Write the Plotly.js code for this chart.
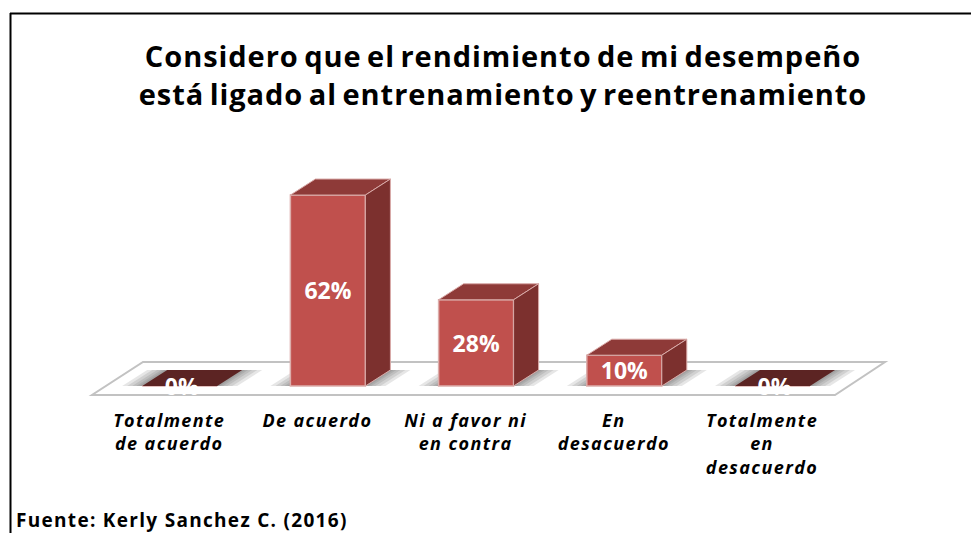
<!DOCTYPE html>
<html><head><meta charset="utf-8">
<script src="https://cdn.plot.ly/plotly-3.0.1.min.js"></script>
<style>
html,body{margin:0;padding:0;background:#fff;overflow:hidden}
.xtick text{letter-spacing:1.4px}
.gtitle{letter-spacing:.95px;word-spacing:-3px}
.annotation-text{letter-spacing:1.3px}
</style></head><body><div id="chart" style="width:971px;height:533px"></div>
<script>
const categories = ["Totalmente<br>de acuerdo","De acuerdo","Ni a favor ni<br>en contra","En<br>desacuerdo","Totalmente<br>en<br>desacuerdo"];
const values = [0,62,28,10,0];
const valueLabels = ["0%","62%","28%","10%","0%"];
const titleText = "Considero que el rendimiento de mi desempeño<br>está ligado al entrenamiento y reentrenamiento";
const sourceText = "Fuente: Kerly Sanchez C. (2016)";

const W=971,H=533, X0=179.7, STEP=148.2, BASE=386, PPU=3.08, AXB=408;
const BARW=75/STEP, DX=25/STEP, DY=16/PPU, LABEL_DROP=3/PPU;
const px=p=>(p-X0)/STEP, py=p=>(BASE-p)/PPU;
const xs=values.map((_,i)=>i);
const poly=(pts)=>({x:pts.map(p=>p[0]).concat(pts[0][0]),y:pts.map(p=>p[1]).concat(pts[0][1])});

const traces=[{type:'bar',x:xs,y:values,width:BARW,marker:{color:'#C0504D',line:{color:'#dcaeac',width:1.5}},hoverinfo:'skip'}];
xs.forEach(i=>{
  const v=values[i],l=i-BARW/2,r=i+BARW/2;
  const top=poly([[l,v],[r,v],[r+DX,v+DY],[l+DX,v+DY]]);
  const zero=v===0;
  traces.push({type:'scatter',mode:zero?'none':'lines',x:top.x,y:top.y,fill:'toself',fillcolor:zero?'#5c2423':'#8e3a38',line:{color:'#d9aaa8',width:1},hoverinfo:'skip'});
  if(!zero){
    const side=poly([[r,0],[r+DX,DY],[r+DX,v+DY],[r,v]]);
    traces.push({type:'scatter',mode:'lines',x:side.x,y:side.y,fill:'toself',fillcolor:'#7c302e',line:{color:'#d9aaa8',width:1},hoverinfo:'skip'});
  }
});
traces.push({type:'scatter',mode:'text',x:xs.map(i=>i+(values[i]===0?2/STEP:0)),y:values.map(v=>v/2-LABEL_DROP),text:valueLabels,textposition:'middle center',
  textfont:{family:'Open Sans',size:23,color:'#fff',weight:700},hoverinfo:'skip',cliponaxis:false});

// floor and soft contact shadows sit under the bars
const path=pts=>'M'+pts.map(p=>p[0]+' '+p[1]).join('L')+'Z';
const shapes=[
 {type:'line',xref:'paper',yref:'paper',x0:10.5/W,x1:10.5/W,y0:0,y1:1-13/H,line:{color:'#000',width:2}},
 {type:'line',xref:'paper',yref:'paper',x0:10/W,x1:1,y0:1-13.5/H,y1:1-13.5/H,line:{color:'#000',width:2}},
 {type:'path',xref:'x',yref:'y',layer:'below',path:path([[px(92),py(395)],[px(835),py(395)],[px(885),py(362)],[px(143),py(362)]]),fillcolor:'#fff',line:{color:'#c2c2c2',width:2}}
];
xs.forEach(i=>{
  const l=i-BARW/2,r=i+BARW/2;
  [20,15,10,6,3].forEach(s=>{
    const e=s/STEP;
    shapes.push({type:'path',xref:'x',yref:'y',layer:'below',path:path([[l-e,0],[r+e,0],[r+DX+e,DY],[l+DX-e,DY]]),fillcolor:'rgba(90,90,90,.15)',line:{width:0}});
  });
});

const layout={width:W,height:H,margin:{l:0,r:0,t:0,b:0},paper_bgcolor:'#fff',plot_bgcolor:'rgba(0,0,0,0)',showlegend:false,
 title:{text:titleText,font:{family:'Open Sans',size:29,color:'#000',weight:700},x:503/W,xanchor:'center',y:1-67/H,yanchor:'middle'},
 xaxis:{range:[px(0),px(W)],showgrid:false,zeroline:false,showline:false,ticks:'',tickmode:'array',tickvals:xs.map(i=>i-10.5/STEP),ticktext:categories,tickangle:0,
   tickfont:{family:'Open Sans',size:18,color:'#000',weight:700,style:'italic'},fixedrange:true},
 yaxis:{domain:[(H-AXB)/H,1],range:[py(AXB),py(0)],showgrid:false,zeroline:false,showline:false,showticklabels:false,ticks:'',fixedrange:true},
 shapes,
 annotations:[{xref:'paper',yref:'paper',x:14/W,y:1-519.5/H,xanchor:'left',yanchor:'middle',showarrow:false,text:sourceText,font:{family:'Open Sans',size:19,color:'#000',weight:700}}]
};
Plotly.newPlot('chart',traces,layout,{displayModeBar:false,staticPlot:true});
</script></body></html>
